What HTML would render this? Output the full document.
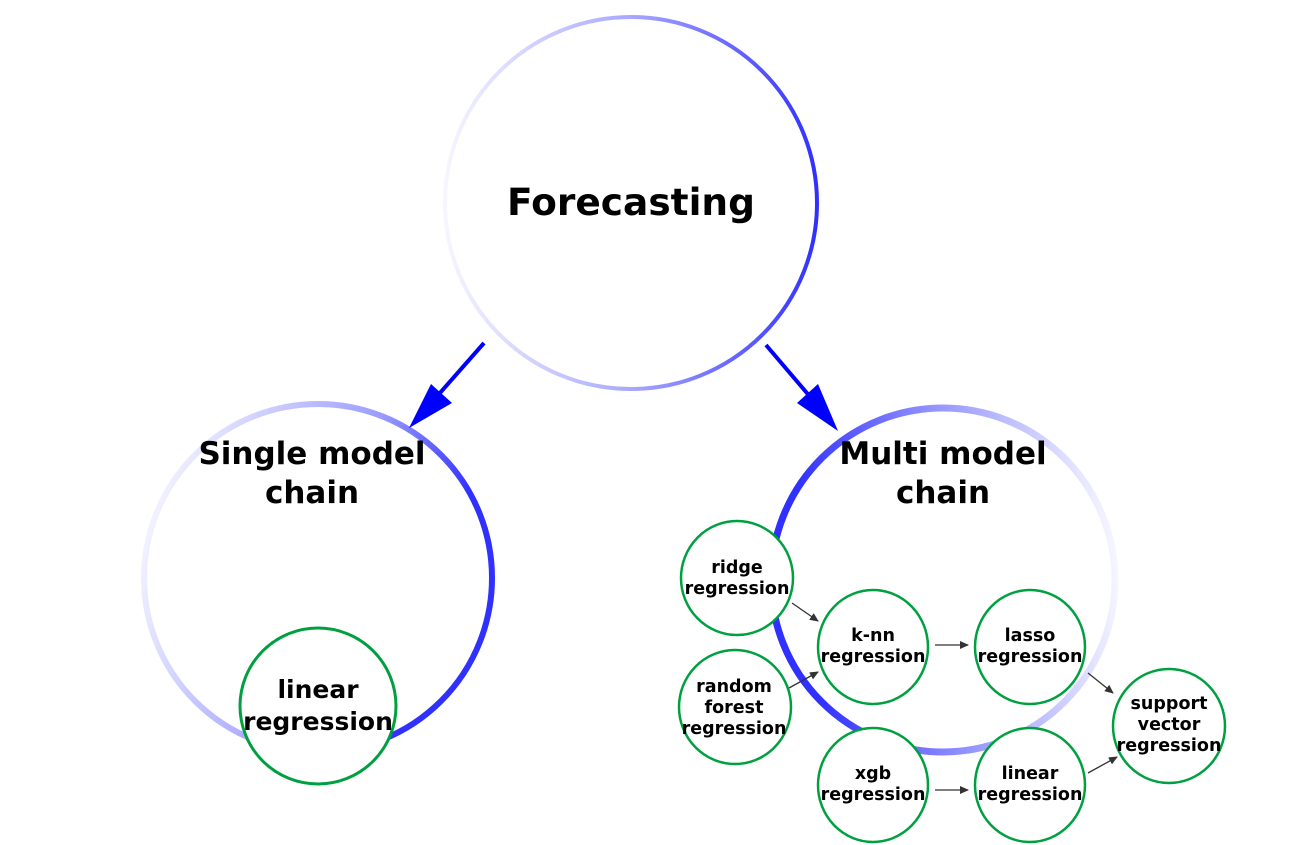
<!DOCTYPE html>
<html><head><style>body{margin:0;background:#fff}svg{display:block}text{font-family:"DejaVu Sans","Liberation Sans",sans-serif;font-weight:bold;fill:#000;text-anchor:middle}</style></head>
<body>
<svg width="1311" height="845" viewBox="0 0 1311 845" xmlns="http://www.w3.org/2000/svg">
<defs>
<linearGradient id="gm" x1="0" y1="0" x2="1" y2="0"><stop offset="0" stop-color="#f6f6ff"/><stop offset="0.5" stop-color="#a8a8ff"/><stop offset="1" stop-color="#3030ff"/></linearGradient>
<linearGradient id="gs" x1="0" y1="0.3" x2="1" y2="0.6"><stop offset="0" stop-color="#f6f6ff"/><stop offset="0.55" stop-color="#9c9cff"/><stop offset="0.85" stop-color="#3030ff"/></linearGradient>
<linearGradient id="gr" x1="0" y1="0.5" x2="1" y2="0.4"><stop offset="0.1" stop-color="#3030ff"/><stop offset="0.5" stop-color="#9090ff"/><stop offset="1" stop-color="#f6f6ff"/></linearGradient>
<marker id="a" markerWidth="10" markerHeight="10" refX="8" refY="4" orient="auto" markerUnits="userSpaceOnUse"><path d="M0,0 L9,4 L0,8 z" fill="#333"/></marker>
</defs>
<circle cx="631" cy="203" r="186" fill="none" stroke="url(#gm)" stroke-width="4"/>
<text x="631" y="215" font-size="37.5">Forecasting</text>
<circle cx="318" cy="578" r="174" fill="none" stroke="url(#gs)" stroke-width="6"/>
<circle cx="943" cy="580" r="172" fill="none" stroke="url(#gr)" stroke-width="7"/>
<line x1="484" y1="343" x2="432" y2="402" stroke="#0000ff" stroke-width="4"/>
<polygon points="409,428 431,384 452,403" fill="#0000ff"/>
<line x1="766" y1="345" x2="812" y2="399" stroke="#0000ff" stroke-width="4"/>
<polygon points="838,431 797,403 818,384" fill="#0000ff"/>
<text x="312" y="464" font-size="31">Single model</text>
<text x="312" y="503" font-size="31">chain</text>
<text x="943" y="464" font-size="31">Multi model</text>
<text x="943" y="503" font-size="31">chain</text>
<circle cx="318" cy="706" r="78" fill="#fff" stroke="#00a040" stroke-width="3"/>
<text x="318" y="698" font-size="25">linear</text>
<text x="318" y="730" font-size="25">regression</text>
<g fill="#fff" stroke="#00a040" stroke-width="2.5">
<ellipse cx="737" cy="578" rx="56" ry="57"/>
<ellipse cx="735" cy="707" rx="56" ry="57"/>
<ellipse cx="873" cy="647" rx="55" ry="57"/>
<ellipse cx="1030" cy="647" rx="55" ry="57"/>
<ellipse cx="873" cy="785" rx="55" ry="57"/>
<ellipse cx="1030" cy="785" rx="55" ry="57"/>
<ellipse cx="1169" cy="726" rx="56" ry="57"/>
</g>
<g stroke="#333" stroke-width="1.3" marker-end="url(#a)">
<line x1="792" y1="603" x2="818" y2="621"/>
<line x1="789" y1="688" x2="818" y2="672"/>
<line x1="935" y1="645" x2="968" y2="645"/>
<line x1="935" y1="790" x2="968" y2="790"/>
<line x1="1088" y1="673" x2="1113" y2="693"/>
<line x1="1088" y1="773" x2="1117" y2="757"/>
</g>
<g font-size="17.5">
<text x="737" y="573">ridge</text><text x="737" y="594">regression</text>
<text x="734" y="692">random</text><text x="734" y="713">forest</text><text x="734" y="734">regression</text>
<text x="873" y="641">k-nn</text><text x="873" y="662">regression</text>
<text x="1030" y="641">lasso</text><text x="1030" y="662">regression</text>
<text x="873" y="779">xgb</text><text x="873" y="800">regression</text>
<text x="1030" y="779">linear</text><text x="1030" y="800">regression</text>
<text x="1169" y="709">support</text><text x="1169" y="730">vector</text><text x="1169" y="751">regression</text>
</g>
</svg>
</body></html>
